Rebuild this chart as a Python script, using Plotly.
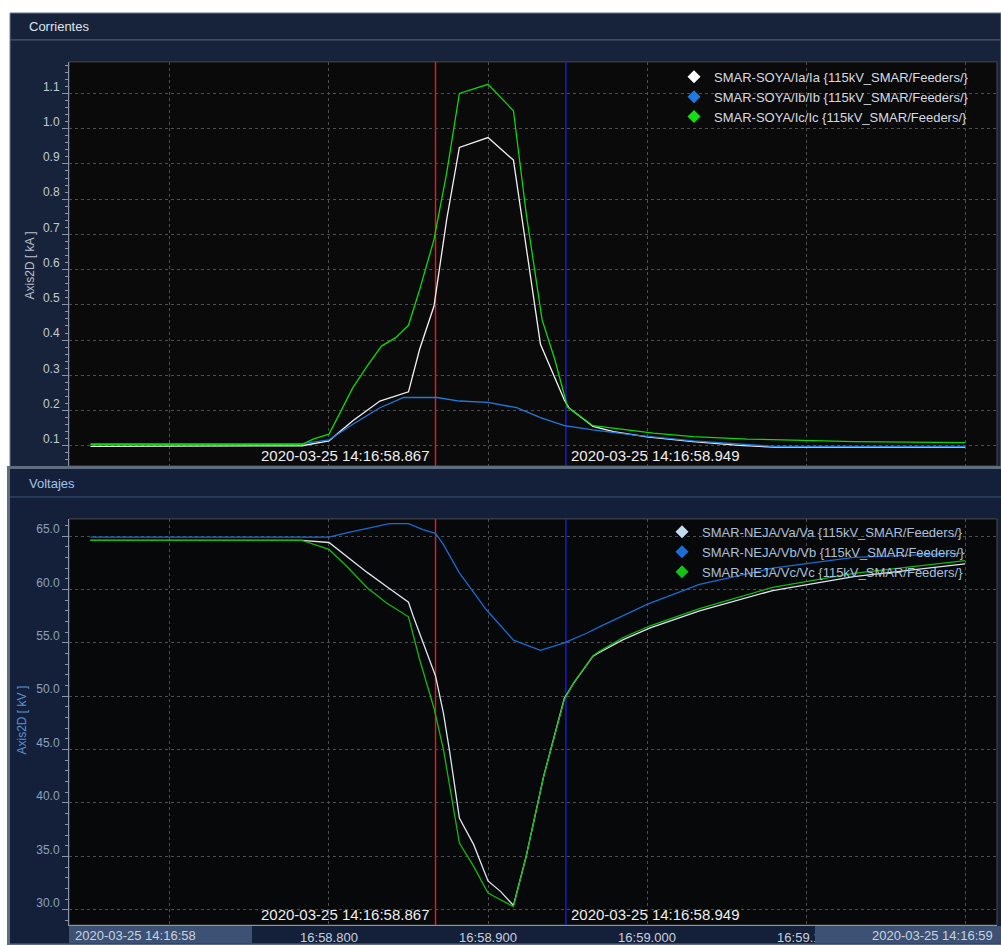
import pandas as pd
import plotly.graph_objects as go

W, H = 1001, 945
BASE = pd.Timestamp("2020-03-25 14:16:58")

# ---- Currents (kA), times in ms after 14:16:58.000 ----
ia_ms = [650, 783, 800, 815, 832, 850, 857, 866, 874, 882, 900, 916, 933, 948, 951, 966, 979, 1000, 1029, 1058, 1080, 1200]
ia_ka = [0.098, 0.100, 0.114, 0.171, 0.227, 0.253, 0.374, 0.496, 0.742, 0.947, 0.975, 0.911, 0.388, 0.230, 0.207, 0.155, 0.140, 0.125, 0.112, 0.101, 0.096, 0.096]

ib_ms = [650, 783, 800, 815, 832, 847, 868, 882, 900, 918, 933, 948, 966, 991, 1029, 1080, 1200]
ib_ka = [0.106, 0.106, 0.117, 0.161, 0.208, 0.237, 0.237, 0.227, 0.223, 0.208, 0.180, 0.157, 0.145, 0.131, 0.114, 0.098, 0.098]

ic_ms = [650, 783, 790, 800, 807, 815, 824, 833, 842, 850, 857, 866, 874, 882, 900, 916, 924, 934, 942, 950, 966, 987, 1004, 1029, 1063, 1130, 1176, 1200]
ic_ka = [0.103, 0.103, 0.119, 0.133, 0.194, 0.265, 0.326, 0.383, 0.407, 0.442, 0.543, 0.685, 0.874, 1.100, 1.126, 1.051, 0.760, 0.458, 0.345, 0.210, 0.157, 0.145, 0.136, 0.126, 0.119, 0.112, 0.109, 0.109]

# ---- Voltages (kV) ----
va_ms = [650, 783, 800, 811, 824, 836, 850, 853, 861, 867, 872, 876, 882, 891, 900, 908, 916, 924, 935, 943, 948, 954, 966, 970, 985, 1002, 1033, 1079, 1130, 1200]
va_kv = [64.6, 64.6, 64.4, 63.1, 61.6, 60.3, 58.8, 57.5, 54.2, 51.9, 48.4, 44.7, 38.6, 36.1, 32.7, 31.7, 30.4, 35.0, 42.5, 46.9, 49.8, 51.25, 53.75, 54.1, 55.3, 56.4, 58.0, 59.9, 61.2, 62.4]

vb_ms = [650, 800, 811, 824, 838, 850, 859, 867, 872, 882, 899, 916, 933, 948, 962, 970, 1000, 1033, 1079, 1130, 1200]
vb_kv = [64.9, 64.9, 65.3, 65.7, 66.16, 66.16, 65.6, 65.25, 64.2, 61.56, 58.1, 55.25, 54.3, 55.0, 55.9, 56.5, 58.6, 60.47, 62.0, 63.0, 63.4]

vc_ms = [650, 783, 800, 811, 824, 836, 850, 857, 866, 872, 882, 891, 900, 916, 924, 935, 943, 948, 954, 966, 970, 985, 1002, 1033, 1079, 1130, 1200]
vc_kv = [64.6, 64.6, 63.75, 62.2, 60.16, 58.75, 57.44, 53.44, 48.9, 45.0, 36.25, 34.06, 31.56, 30.3, 35.0, 42.5, 46.9, 49.7, 51.3, 53.8, 54.2, 55.5, 56.6, 58.2, 60.2, 61.5, 62.7]

# ---- Cursors and axis ticks ----
cursor_ms = [867, 949]
cursor_colors = ["#ff1414", "#1c1ce0"]
cursor_labels = ["2020-03-25 14:16:58.867", "2020-03-25 14:16:58.949"]
grid_ms = [700, 800, 900, 1000, 1100, 1200]
# the outer ticks sit under the date boxes, so they carry no text
grid_text = ["", "16:58.800", "16:58.900", "16:59.000", "16:59.100", ""]
x_span_ms = [636.5, 1220.1]

current_names = ["SMAR-SOYA/Ia/Ia {115kV_SMAR/Feeders/}",
                 "SMAR-SOYA/Ib/Ib {115kV_SMAR/Feeders/}",
                 "SMAR-SOYA/Ic/Ic {115kV_SMAR/Feeders/}"]
voltage_names = ["SMAR-NEJA/Va/Va {115kV_SMAR/Feeders/}",
                 "SMAR-NEJA/Vb/Vb {115kV_SMAR/Feeders/}",
                 "SMAR-NEJA/Vc/Vc {115kV_SMAR/Feeders/}"]
current_colors = ["#f2f2f2", "#1f7ae0", "#0ad80a"]
current_marks = ["#ffffff", "#1f7ae0", "#12e012"]
voltage_colors = ["#dce6ee", "#1b6cd2", "#12b812"]
voltage_marks = ["#c4dcf0", "#1a6ed8", "#14c414"]


def ts(ms):
    return [BASE + pd.Timedelta(milliseconds=m) for m in ms]


def px(x):
    return x / W


def py(y):
    return 1 - y / H


FONT = "Liberation Sans, Arial, sans-serif"
fig = go.Figure()

for name, t, v, c in zip(current_names, [ia_ms, ib_ms, ic_ms], [ia_ka, ib_ka, ic_ka], current_colors):
    fig.add_trace(go.Scatter(x=ts(t), y=v, mode="lines", line=dict(color=c, width=1.3),
                             xaxis="x", yaxis="y", showlegend=False, name=name))
for name, t, v, c in zip(voltage_names, [va_ms, vb_ms, vc_ms], [va_kv, vb_kv, vc_kv], voltage_colors):
    fig.add_trace(go.Scatter(x=ts(t), y=v, mode="lines", line=dict(color=c, width=1.3),
                             xaxis="x2", yaxis="y2", showlegend=False, name=name))

# legend entries with diamond symbols
for name, c in zip(current_names, current_marks):
    fig.add_trace(go.Scatter(x=[None], y=[None], mode="markers", name=name,
                             marker=dict(symbol="diamond", size=10, color=c),
                             xaxis="x", yaxis="y", legend="legend"))
for name, c in zip(voltage_names, voltage_marks):
    fig.add_trace(go.Scatter(x=[None], y=[None], mode="markers", name=name,
                             marker=dict(symbol="diamond", size=10, color=c),
                             xaxis="x2", yaxis="y2", legend="legend2"))

PLOT_X = [px(69), px(997)]
TOP_Y = [py(467), py(62)]
BOT_Y = [py(927), py(520)]
GRID = "#4e4e4e"
AXLINE = "#8795ab"

xcommon = dict(type="date", range=ts(x_span_ms), domain=PLOT_X, showgrid=True,
               gridcolor=GRID, griddash="dot", gridwidth=1, zeroline=False,
               tickmode="array", tickvals=ts(grid_ms), ticktext=grid_text, ticks="")

fig.update_layout(
    width=W, height=H, margin=dict(l=0, r=0, t=0, b=0),
    paper_bgcolor="#ffffff", plot_bgcolor="rgba(0,0,0,0)",
    font=dict(family=FONT, size=13, color="#d0d6de"),
    xaxis=dict(**xcommon, anchor="y", showticklabels=False, showline=False),
    xaxis2=dict(**xcommon, anchor="y2", showticklabels=True, showline=True,
                linecolor=AXLINE, linewidth=1,
                tickfont=dict(family=FONT, size=13, color="#c9d1dc")),
    yaxis=dict(domain=TOP_Y, range=[0.0425, 1.1898], anchor="x", tickmode="linear",
               tick0=0.1, dtick=0.1, tickformat=".1f", showgrid=True, gridcolor=GRID,
               griddash="dot", zeroline=False, showline=True, linecolor=AXLINE,
               ticks="outside", ticklen=6, tickcolor=AXLINE, ticklabelshift=-7,
               tickfont=dict(family=FONT, size=12, color="#c2c9d3"),
               minor=dict(tick0=0, dtick=0.02, ticks="outside", ticklen=3, tickcolor=AXLINE, showgrid=False)),
    yaxis2=dict(domain=BOT_Y, range=[28.57, 66.61], anchor="x2", tickmode="linear",
                tick0=30, dtick=5, tickformat=".1f", showgrid=True, gridcolor=GRID,
                griddash="dot", zeroline=False, showline=True, linecolor=AXLINE,
                ticks="outside", ticklen=6, tickcolor=AXLINE, ticklabelshift=-7,
                tickfont=dict(family=FONT, size=12, color="#8aa0bd"),
                minor=dict(tick0=0, dtick=1, ticks="outside", ticklen=3, tickcolor=AXLINE, showgrid=False)),
    legend=dict(x=px(674), y=py(62), xanchor="left", yanchor="top", bgcolor="rgba(0,0,0,0)",
                font=dict(family=FONT, size=13, color="#d6dbe3"), itemwidth=30, tracegroupgap=0),
    legend2=dict(x=px(662), y=py(518), xanchor="left", yanchor="top", bgcolor="rgba(0,0,0,0)",
                 font=dict(family=FONT, size=13, color="#a9c0da"), itemwidth=30, tracegroupgap=0),
)

shapes = [
    # top window
    dict(type="rect", xref="paper", yref="paper", x0=px(10), x1=px(1001), y0=py(470), y1=py(13),
         fillcolor="#17233a", line=dict(color="#6d7d95", width=1), layer="below"),
    dict(type="line", xref="paper", yref="paper", x0=px(10), x1=px(1001), y0=py(40), y1=py(40),
         line=dict(color="#56667f", width=1), layer="below"),
    # top plot area
    dict(type="rect", xref="paper", yref="paper", x0=PLOT_X[0], x1=PLOT_X[1], y0=TOP_Y[0], y1=TOP_Y[1],
         fillcolor="#0a0a0a", line=dict(color="#4a4a4a", width=1), layer="below"),
    # bottom window
    dict(type="rect", xref="paper", yref="paper", x0=px(8.5), x1=px(1003), y0=py(947), y1=py(468.5),
         fillcolor="#14203a", line=dict(color="#5f6e7e", width=3), layer="below"),
    dict(type="line", xref="paper", yref="paper", x0=px(10), x1=px(1001), y0=py(498), y1=py(498),
         line=dict(color="#3b5276", width=1), layer="below"),
    # bottom plot area
    dict(type="rect", xref="paper", yref="paper", x0=PLOT_X[0], x1=PLOT_X[1], y0=BOT_Y[0], y1=BOT_Y[1],
         fillcolor="#070809", line=dict(color="#4a4a4a", width=1), layer="below"),
    # date boxes on the time axis
    dict(type="rect", xref="paper", yref="paper", x0=px(69), x1=px(252), y0=py(945), y1=py(928),
         fillcolor="#3c5173", line=dict(width=0), layer="above"),
    dict(type="rect", xref="paper", yref="paper", x0=px(815), x1=px(1001), y0=py(945), y1=py(928),
         fillcolor="#3c5173", line=dict(width=0), layer="above"),
]
annotations = [
    dict(text="Corrientes", xref="paper", yref="paper", x=px(27), y=py(27), xanchor="left",
         yanchor="middle", showarrow=False, font=dict(family=FONT, size=13, color="#dfe4ec")),
    dict(text="Voltajes", xref="paper", yref="paper", x=px(27), y=py(485), xanchor="left",
         yanchor="middle", showarrow=False, font=dict(family=FONT, size=13, color="#a2c4e8")),
    dict(text="Axis2D [ kA ]", xref="paper", yref="paper", x=px(30), y=py(266), textangle=-90,
         xanchor="center", yanchor="middle",
         showarrow=False, font=dict(family=FONT, size=12, color="#b7c0cc")),
    dict(text="Axis2D [ kV ]", xref="paper", yref="paper", x=px(22), y=py(722), textangle=-90,
         xanchor="center", yanchor="middle",
         showarrow=False, font=dict(family=FONT, size=12, color="#5a92d4")),
    dict(text="2020-03-25 14:16:58", xref="paper", yref="paper", x=px(73), y=py(937), xanchor="left",
         yanchor="middle", showarrow=False, font=dict(family=FONT, size=13, color="#c9d3e0")),
    dict(text="2020-03-25 14:16:59", xref="paper", yref="paper", x=px(995), y=py(937), xanchor="right",
         yanchor="middle", showarrow=False, font=dict(family=FONT, size=13, color="#c9d3e0")),
]

for ms, col, lab, side in zip(cursor_ms, cursor_colors, cursor_labels, ["right", "left"]):
    for xr, yr in [("x", "y"), ("x2", "y2")]:
        shapes.append(dict(type="line", xref=xr, yref=yr + " domain", x0=ts([ms])[0], x1=ts([ms])[0],
                           y0=0, y1=1, line=dict(color=col, width=1.4), layer="below"))
        annotations.append(dict(text=lab, xref=xr, yref=yr + " domain", x=ts([ms])[0], y=0,
                                xanchor=side, yanchor="bottom", xshift=-5 if side == "right" else 3,
                                yshift=0, showarrow=False,
                                font=dict(family=FONT, size=15, color="#eeeeee")))

fig.update_layout(shapes=shapes, annotations=annotations)
fig.write_html("out.html")
